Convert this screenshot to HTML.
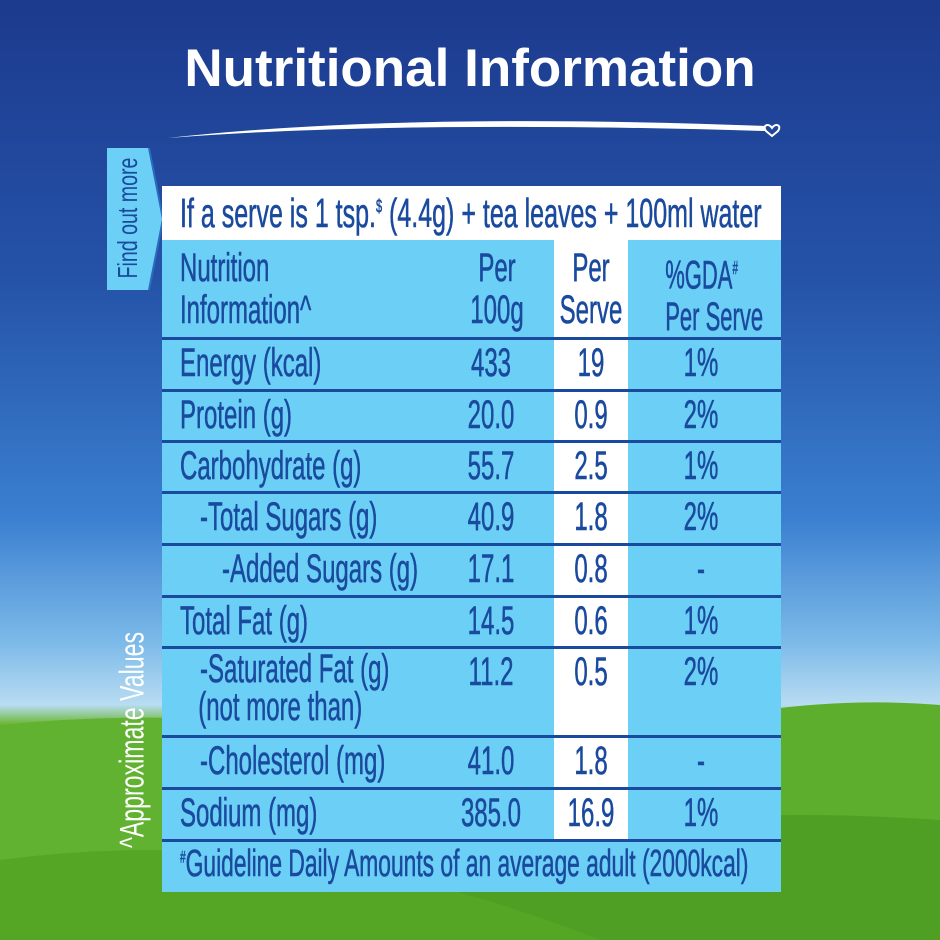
<!DOCTYPE html>
<html style="width:940px;height:940px;overflow:hidden"><head><meta charset="utf-8"><style>
*{margin:0;padding:0;box-sizing:border-box}
body{width:940px;height:940px;overflow:hidden;position:relative;font-family:"Liberation Sans Narrow","Liberation Sans",sans-serif;
background:linear-gradient(180deg,#1c3a8e 0%,#2553a8 30%,#3a7fd0 55%,#7ab8e8 68%,#b8dcf2 75%,#6fb83a 77%,#4d9e22 85%,#3f8a1a 100%)}
.t{position:absolute;color:#1a4a9e;font-size:40px;white-space:nowrap;transform-origin:left top;transform:scaleX(0.6);-webkit-text-stroke:0.6px #1a4a9e}
.c{position:absolute;color:#1a4a9e;font-size:40px;text-align:center;width:120px;white-space:nowrap;transform:scaleX(0.6);-webkit-text-stroke:0.6px #1a4a9e}
.line{position:absolute;left:162px;width:619px;height:3px;background:#1a4a9e}
</style></head><body>
<svg style="position:absolute;left:0;top:0" width="940" height="940">
<path d="M0 725 Q250 700 520 760 L520 940 L0 940Z" fill="#62b232"/>
<path d="M560 760 Q760 690 940 705 L940 940 L560 940Z" fill="#5cae2c"/>
<path d="M250 940 Q500 790 940 820 L940 940Z" fill="#4f9f24"/>
<path d="M0 860 Q300 820 600 940 L0 940Z" fill="#56a626"/>
<path d="M168 138 Q400 112 765 126 L765 131 Q400 120 168 138Z" fill="#fff"/><path d="M772 128 c-4 -6 -10 -2 -6 3 l6 5 l6 -5 c4 -5 -2 -9 -6 -3z" fill="none" stroke="#fff" stroke-width="2"/>
<path d="M107 148 L149 148 L163 219 L149 290 L107 290Z" fill="#6ccff6"/><path d="M149 148 L163 219 L149 290" fill="none" stroke="#2a6cc0" stroke-width="2"/>
</svg>
<div style="position:absolute;left:0;top:38px;width:940px;text-align:center;color:#fff;font-family:'Liberation Sans',sans-serif;font-weight:bold;font-size:53px">Nutritional Information</div>
<div style="position:absolute;left:128px;top:218px;color:#1a4a9e;font-size:28px;white-space:nowrap;transform:translate(-50%,-50%) rotate(-90deg) scaleX(0.7)">Find out more</div>
<div style="position:absolute;left:133px;top:740px;color:#fff;font-size:34px;white-space:nowrap;transform:translate(-50%,-50%) rotate(-90deg) scaleX(0.68)">^Approximate Values</div>
<div style="position:absolute;left:162px;top:186px;width:619px;height:54px;background:#fff"></div>
<div style="position:absolute;left:162px;top:240px;width:619px;height:652px;background:#6ccff6"></div>
<div style="position:absolute;left:554px;top:240px;width:74px;height:600px;background:#fff"></div>
<div class="t" style="left:180px;top:190px;font-size:41px;transform:scaleX(0.61)">If a serve is 1 tsp.<sup style="font-size:18px">$</sup> (4.4g) + tea leaves + 100ml water</div>
<div class="t" style="left:180px;top:247px;line-height:42px">Nutrition<br>Information^</div>
<div class="c" style="left:437px;top:247px;line-height:42px">Per<br>100g</div>
<div class="c" style="left:531px;top:247px;line-height:42px">Per<br>Serve</div>
<div class="c" style="left:636px;top:247px;line-height:42px;width:130px;transform:scaleX(0.55)">%GDA<sup style="font-size:18px">#</sup><br>Per Serve</div>
<div class="line" style="top:337px"></div><div class="line" style="top:389px"></div><div class="line" style="top:440px"></div><div class="line" style="top:491px"></div><div class="line" style="top:543px"></div><div class="line" style="top:595px"></div><div class="line" style="top:646px"></div><div class="line" style="top:735px"></div><div class="line" style="top:787px"></div><div class="line" style="top:839px"></div>
<div class="t" style="left:180px;top:341px">Energy (kcal)</div><div class="c" style="left:431px;top:341px">433</div><div class="c" style="left:531px;top:341px">19</div><div class="c" style="left:641px;top:341px">1%</div>
<div class="t" style="left:180px;top:393px">Protein (g)</div><div class="c" style="left:431px;top:393px">20.0</div><div class="c" style="left:531px;top:393px">0.9</div><div class="c" style="left:641px;top:393px">2%</div>
<div class="t" style="left:180px;top:444px">Carbohydrate (g)</div><div class="c" style="left:431px;top:444px">55.7</div><div class="c" style="left:531px;top:444px">2.5</div><div class="c" style="left:641px;top:444px">1%</div>
<div class="t" style="left:200px;top:495px">-Total Sugars (g)</div><div class="c" style="left:431px;top:495px">40.9</div><div class="c" style="left:531px;top:495px">1.8</div><div class="c" style="left:641px;top:495px">2%</div>
<div class="t" style="left:222px;top:547px">-Added Sugars (g)</div><div class="c" style="left:431px;top:547px">17.1</div><div class="c" style="left:531px;top:547px">0.8</div><div class="c" style="left:641px;top:547px">-</div>
<div class="t" style="left:180px;top:599px">Total Fat (g)</div><div class="c" style="left:431px;top:599px">14.5</div><div class="c" style="left:531px;top:599px">0.6</div><div class="c" style="left:641px;top:599px">1%</div>
<div class="t" style="left:200px;top:650px;line-height:38px">-Saturated Fat (g)<br><span style="margin-left:-3px">(not more than)</span></div><div class="c" style="left:431px;top:650px">11.2</div><div class="c" style="left:531px;top:650px">0.5</div><div class="c" style="left:641px;top:650px">2%</div>
<div class="t" style="left:200px;top:739px">-Cholesterol (mg)</div><div class="c" style="left:431px;top:739px">41.0</div><div class="c" style="left:531px;top:739px">1.8</div><div class="c" style="left:641px;top:739px">-</div>
<div class="t" style="left:180px;top:791px">Sodium (mg)</div><div class="c" style="left:431px;top:791px">385.0</div><div class="c" style="left:531px;top:791px">16.9</div><div class="c" style="left:641px;top:791px">1%</div>
<div class="t" style="left:180px;top:843px;font-size:38px;transform:scaleX(0.6)"><sup style="font-size:17px">#</sup>Guideline Daily Amounts of an average adult (2000kcal)</div>
</body></html>
